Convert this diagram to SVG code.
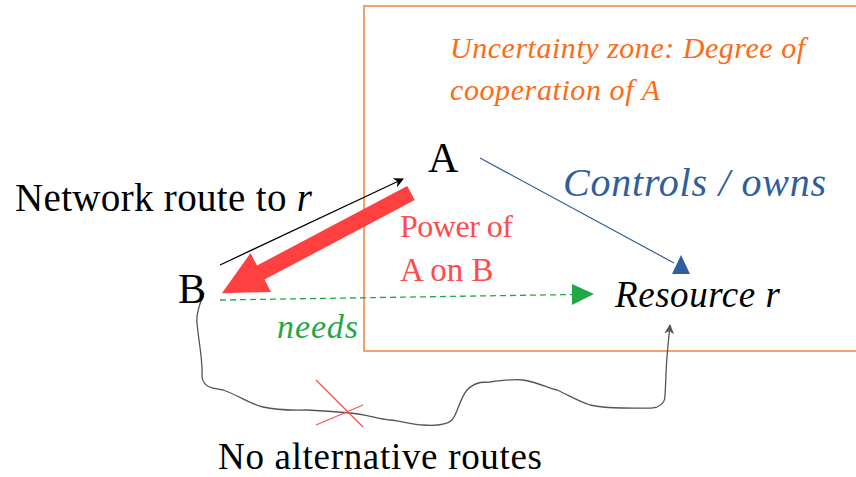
<svg xmlns="http://www.w3.org/2000/svg" width="856" height="477" viewBox="0 0 856 477" font-family="'Liberation Serif', 'DejaVu Serif', serif">
<style>
text{font-family:'Liberation Serif','DejaVu Serif',serif}
.it{font-style:italic}
</style>
<defs>
<marker id="blk" markerWidth="10" markerHeight="10" refX="9" refY="5" orient="auto" markerUnits="userSpaceOnUse">
<path d="M0,0 L10,5 L0,10 L3,5 Z" fill="#000"/>
</marker>
<marker id="gry" markerWidth="10" markerHeight="10" refX="9" refY="5" orient="auto" markerUnits="userSpaceOnUse">
<path d="M0,0 L10,5 L0,10 L3,5 Z" fill="#555"/>
</marker>
</defs>
<g id="zone">
<rect x="364" y="6" width="520" height="345" fill="none" stroke="#F5A070" stroke-width="2"/>
<text class="it" x="450" y="58" font-size="30" fill="#FF6A13" textLength="355">Uncertainty zone: Degree of</text>
<text class="it" x="450" y="100" font-size="30" fill="#FF6A13" textLength="210">cooperation of A</text>
</g>
<g id="connectors">
<line x1="480" y1="158" x2="674" y2="263" stroke="#2F5F9E" stroke-width="1.2"/>
<polygon points="672,274 690,274 681,255" fill="#2F5F9E"/>
<line x1="220" y1="265" x2="403" y2="179" stroke="#000" stroke-width="1.3" marker-end="url(#blk)"/>
<polygon points="0,-8 170,-8 170,-22 214,0 170,22 170,8 0,8" fill="#FF4040" transform="translate(411,193) rotate(152.1)"/>
<line x1="220" y1="300" x2="574" y2="294.5" stroke="#1FA845" stroke-width="1.3" stroke-dasharray="6,4"/>
<polygon points="572,284 594,294 572,305" fill="#1FA845"/>
<path d="M204,293 C199,305 196,315 197,323 C199,345 203,360 202,377 C204,388 212,388 223,390 C240,396 250,404 263,407 C280,411 293,410 307,410 C325,411 338,412 350,413 C365,414 378,419 390,420 C402,421 413,425 423,425 C438,426 448,424 452,420 C458,413 459,400 467,390 C475,382 482,382 490,382 C505,380 514,379 523,380 C540,383 548,388 557,390 C570,396 580,402 590,405 C603,408 612,408 623,408 C640,408 650,409 657,407 C664,404 665,400 665,395 C666,380 666,368 667,357 C668,345 669,335 670,325" fill="none" stroke="#555" stroke-width="1.3" marker-end="url(#gry)"/>
<line x1="316" y1="380" x2="363" y2="427" stroke="#FF5050" stroke-width="1.2"/>
<line x1="316" y1="425" x2="363" y2="405" stroke="#FF5050" stroke-width="1.2"/>
</g>
<g id="A"><text x="428" y="172" font-size="42" fill="#000">A</text></g>
<g id="B"><text x="178" y="303" font-size="42" fill="#000">B</text></g>
<g id="resource"><text class="it" x="615" y="307" font-size="37" fill="#000" textLength="165">Resource r</text></g>
<text class="it" x="563" y="196" font-size="40" fill="#2F5F9E" textLength="263">Controls / owns</text>
<text x="15" y="211" font-size="39" fill="#000" textLength="297">Network route to <tspan class="it">r</tspan></text>
<text x="400" y="237" font-size="32" fill="#FF4B4B" textLength="113">Power of</text>
<text x="400" y="281" font-size="33" fill="#FF4B4B">A on B</text>
<text class="it" x="277" y="338" font-size="34" fill="#1FA845" textLength="81">needs</text>
<text x="218" y="469" font-size="37" fill="#000" textLength="324">No alternative routes</text>
</svg>
